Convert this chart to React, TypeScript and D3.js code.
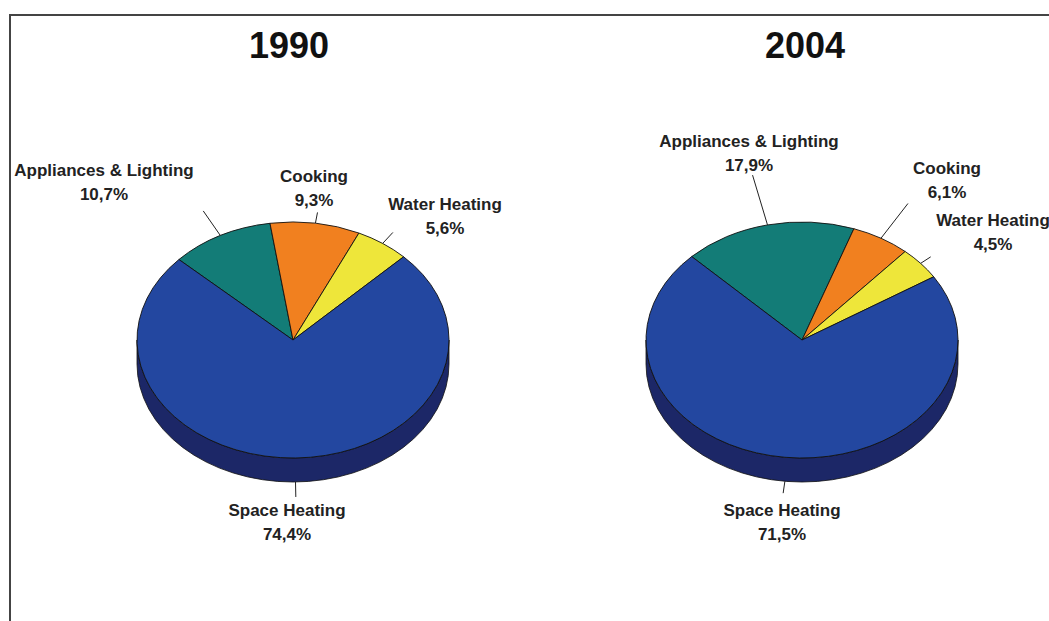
import React from "react";
import * as d3 from "d3";

// ---- data ----
const categories = ["Appliances & Lighting", "Cooking", "Water Heating", "Space Heating"];
const years = ["1990", "2004"];
const values1990 = [10.7, 9.3, 5.6, 74.4];
const values2004 = [17.9, 6.1, 4.5, 71.5];

// ---- styles / layout ----
const topColors = ["#137C77", "#F1801F", "#EEE63A", "#2347A0"];
const sideColors = ["#0B4A47", "#8F4A12", "#8D8822", "#1C2767"];
const W = 1049;
const H = 621;
const RX = 156;
const RY = 118;
const DEPTH = 24;

type PieLayout = {
  cx: number;
  cy: number;
  titleX: number;
  start: number; // degrees
  labelOffsets: [number, number][];
  leaderLen: number[];
};

const layouts: PieLayout[] = [
  {
    cx: 293,
    cy: 340,
    titleX: 289,
    start: -47,
    labelOffsets: [[-189, -170], [21, -164], [152, -136], [-6, 170]],
    leaderLen: [30, 11, 15, 15],
  },
  {
    cx: 802,
    cy: 340,
    titleX: 805,
    start: -45,
    labelOffsets: [[-53, -199], [145, -172], [191, -120], [-20, 170]],
    leaderLen: [52, 44, 12, 12],
  },
];

const fmt = (v: number) => v.toFixed(1).replace(".", ",") + "%";

function Pie3D({ values, layout, title }: { values: number[]; layout: PieLayout; title: string }) {
  const { cx, cy } = layout;
  const k = RY / RX;
  const startRad = (layout.start * Math.PI) / 180;
  const pie = d3
    .pie<number>()
    .sort(null)
    .value((d) => d)
    .startAngle(startRad)
    .endAngle(startRad + 2 * Math.PI);
  const arcs = pie(values);
  const arc = d3.arc<d3.PieArcDatum<number>>().innerRadius(0).outerRadius(RX);

  const P = (a: number) => [cx + RX * Math.sin(a), cy - RY * Math.cos(a)];

  // side pieces: front half of the ellipse (angles pi/2 .. 3pi/2, modulo 2pi)
  const sides: { d: string; i: number }[] = [];
  arcs.forEach((a, i) => {
    for (const shift of [0, 2 * Math.PI, -2 * Math.PI]) {
      const a0 = Math.max(a.startAngle + shift, Math.PI / 2);
      const a1 = Math.min(a.endAngle + shift, (3 * Math.PI) / 2);
      if (a1 > a0) {
        const p0 = P(a0);
        const p1 = P(a1);
        const d =
          `M${p0[0]},${p0[1]}` +
          `A${RX},${RY} 0 0 1 ${p1[0]},${p1[1]}` +
          `L${p1[0]},${p1[1] + DEPTH}` +
          `A${RX},${RY} 0 0 0 ${p0[0]},${p0[1] + DEPTH}Z`;
        sides.push({ d, i });
      }
    }
  });

  return (
    <g>
      <text
        x={layout.titleX}
        y={58}
        textAnchor="middle"
        fontFamily="Liberation Sans, Arial, sans-serif"
        fontWeight="bold"
        fontSize={36}
        fill="#111"
      >
        {title}
      </text>
      {sides.map((s, j) => (
        <path key={"s" + j} d={s.d} fill={sideColors[s.i]} stroke="#111" strokeWidth={0.8} />
      ))}
      <g transform={`translate(${cx},${cy}) scale(1,${k})`}>
        {arcs.map((a, i) => (
          <path
            key={"a" + i}
            d={arc(a) || ""}
            fill={topColors[i]}
            stroke="#111"
            strokeWidth={0.9}
            vectorEffect="non-scaling-stroke"
          />
        ))}
      </g>
      {arcs.map((a, i) => {
        const mid = (a.startAngle + a.endAngle) / 2;
        const [px, py0] = P(mid);
        const front = Math.cos(mid) < 0;
        const py = front ? py0 + DEPTH : py0;
        let dx = px - cx;
        let dy = py0 - cy;
        const len = Math.hypot(dx, dy) || 1;
        dx /= len;
        dy /= len;
        const L = layout.leaderLen[i];
        const [ox, oy] = layout.labelOffsets[i];
        const lx = cx + ox;
        const ly = cy + oy;
        return (
          <g key={"l" + i}>
            <line x1={px} y1={py} x2={px + dx * L} y2={py + dy * L} stroke="#222" strokeWidth={1} />
            <text
              x={lx}
              y={ly + 6}
              textAnchor="middle"
              fontFamily="Liberation Sans, Arial, sans-serif"
              fontWeight="bold"
              fontSize={17}
              fill="#222"
            >
              <tspan x={lx}>{categories[i]}</tspan>
              <tspan x={lx} dy={24}>
                {fmt(values[i])}
              </tspan>
            </text>
          </g>
        );
      })}
    </g>
  );
}

export default function App() {
  const series = [values1990, values2004];
  return (
    <svg
      width={W}
      height={H}
      style={{ position: "absolute", left: 0, top: 0, background: "#fff" }}
    >
      <rect x={0} y={0} width={W} height={H} fill="#fff" />
      <line x1={10} y1={15} x2={W} y2={15} stroke="#444" strokeWidth={2} />
      <line x1={10} y1={14} x2={10} y2={H} stroke="#444" strokeWidth={2} />
      {series.map((vals, i) => (
        <Pie3D key={years[i]} values={vals} layout={layouts[i]} title={years[i]} />
      ))}
    </svg>
  );
}
